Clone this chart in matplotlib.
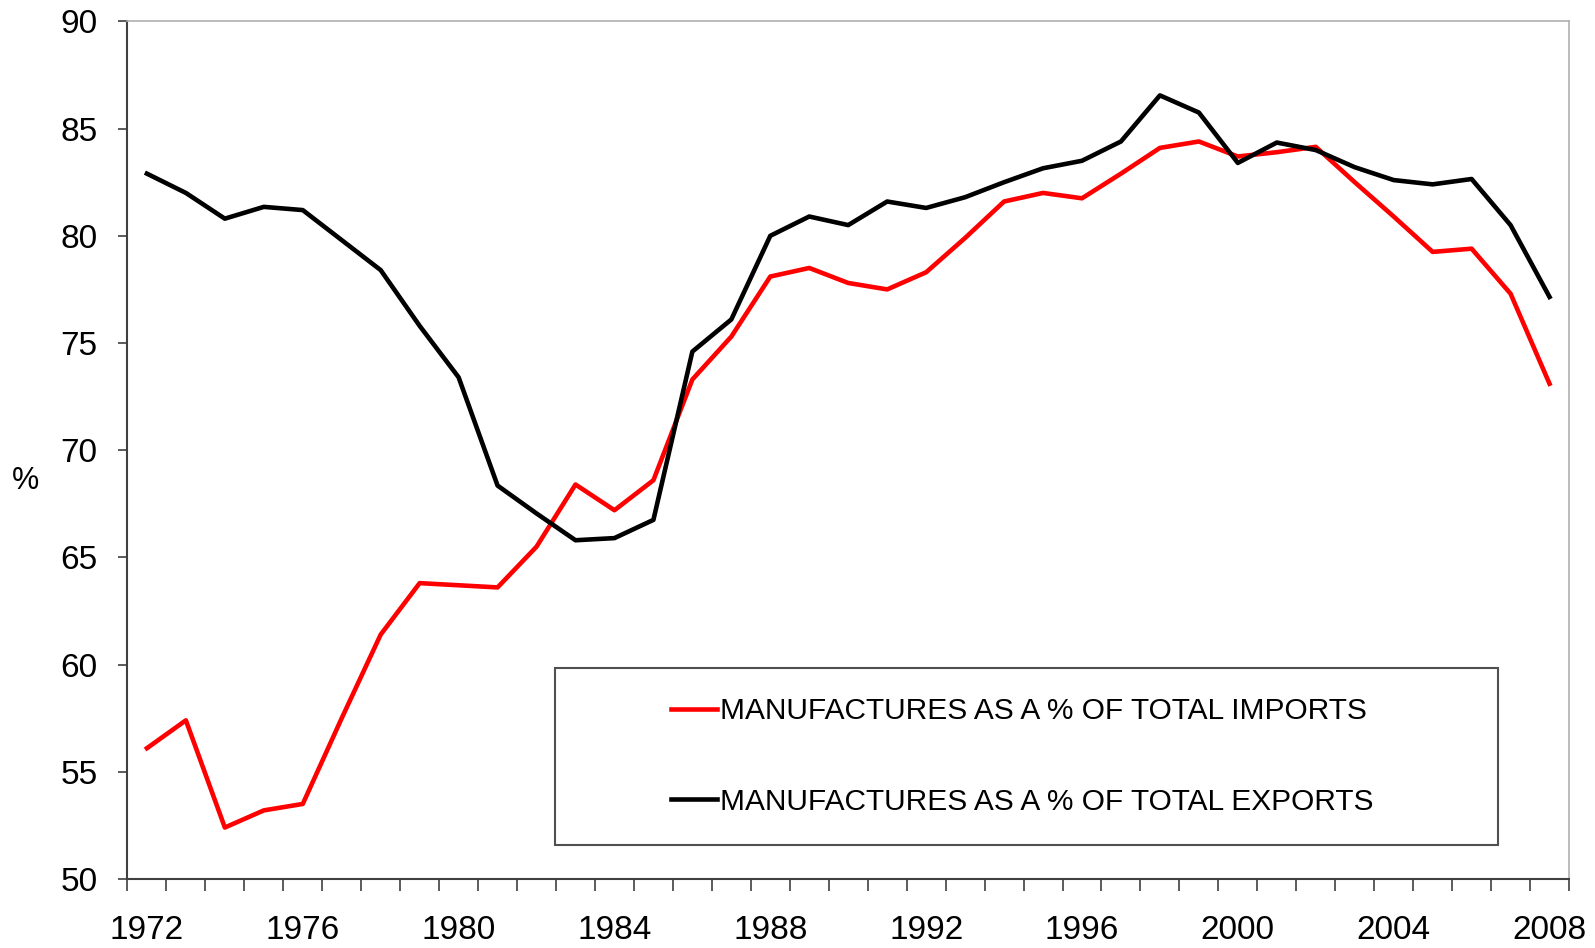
import matplotlib
matplotlib.use("Agg")
import matplotlib.pyplot as plt
from matplotlib.patches import Rectangle
from matplotlib.ticker import MultipleLocator, FixedLocator
import numpy as np

plt.rcParams['font.family'] = ['Liberation Sans', 'DejaVu Sans']

years = list(range(1972, 2009))

# manufactures as a % of total imports
imports = [56.1, 57.4, 52.4, 53.2, 53.5, 57.5, 61.4, 63.8, 63.7, 63.6,
           65.5, 68.4, 67.2, 68.6, 73.3, 75.3, 78.1, 78.5, 77.8, 77.5,
           78.3, 79.9, 81.6, 82.0, 81.75, 82.9, 84.1, 84.4, 83.7, 83.9,
           84.15, 82.5, 80.9, 79.25, 79.4, 77.3, 73.1]

# manufactures as a % of total exports
exports = [82.9, 82.0, 80.8, 81.35, 81.2, 79.8, 78.4, 75.8, 73.4, 68.35,
           67.05, 65.8, 65.9, 66.75, 74.6, 76.1, 80.0, 80.9, 80.5, 81.6,
           81.3, 81.8, 82.5, 83.15, 83.5, 84.4, 86.55, 85.75, 83.4, 84.35,
           84.0, 83.2, 82.6, 82.4, 82.65, 80.5, 77.15]

label_years = [1972, 1976, 1980, 1984, 1988, 1992, 1996, 2000, 2004, 2008]

labels = ["MANUFACTURES AS A % OF TOTAL IMPORTS",
          "MANUFACTURES AS A % OF TOTAL EXPORTS"]

fig = plt.figure(figsize=(15.95, 9.48), dpi=100)
ax = fig.add_axes([0.0799, 0.0728, 0.9038, 0.9046])

ax.plot(years, imports, color='#ff0000', lw=3.3, label=labels[0])
ax.plot(years, exports, color='black', lw=3.3, label=labels[1])

ax.set_xlim(1971.5, 2008.5)
ax.set_ylim(50, 90)

ax.yaxis.set_major_locator(MultipleLocator(5))
ax.tick_params(axis='y', which='major', direction='out', length=6.5, width=1.2,
               pad=15, labelsize=24, color='#404040')

# category-style axis: tick marks between years, labels at year centres
ax.xaxis.set_major_locator(FixedLocator(label_years))
ax.xaxis.set_minor_locator(FixedLocator(np.arange(1971.5, 2009.0, 1.0)))
ax.tick_params(axis='x', which='major', length=0, pad=26, labelsize=24)
ax.tick_params(axis='x', which='minor', direction='out', length=8.5, width=1.2,
               color='#404040')

for side in ['left', 'bottom']:
    ax.spines[side].set_color('#404040')
    ax.spines[side].set_linewidth(1.5)
for side in ['top', 'right']:
    ax.spines[side].set_color('#b0b0b0')
    ax.spines[side].set_linewidth(1.2)

ax.set_ylabel('%', rotation=0, fontsize=22, va='center', ha='center')
ax.yaxis.set_label_coords(-0.0708, 0.464)

# legend box
box = Rectangle((0.2966, 0.0396), 0.6542, 0.2064, transform=ax.transAxes,
                fill=False, edgecolor='#505050', lw=1.5, zorder=3)
ax.add_patch(box)
ax.legend(loc='center left', bbox_to_anchor=(0.377, 0.1429), frameon=False,
          fontsize=21.5, handlelength=1.54, handletextpad=0.1, labelspacing=2.1,
          borderpad=0, borderaxespad=0)

fig.savefig('out.png', dpi=100)
